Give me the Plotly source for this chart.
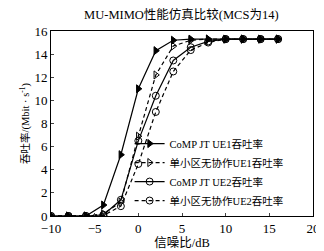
import plotly.graph_objects as go

snr = [-10, -8, -6, -4, -2, 0, 2, 4, 6, 8, 10, 12, 14, 16]
comp_ue1 = [0, 0, 0, 0.95, 5.3, 11.0, 14.3, 15.2, 15.3, 15.3, 15.3, 15.3, 15.3, 15.3]
single_ue1 = [0, 0, 0, 0.2, 1.2, 6.9, 12.2, 14.7, 15.2, 15.3, 15.3, 15.3, 15.3, 15.3]
comp_ue2 = [0, 0, 0, 0.1, 1.4, 6.5, 10.4, 13.45, 14.6, 15.1, 15.3, 15.3, 15.3, 15.3]
single_ue2 = [0, 0, 0, 0.05, 0.85, 4.5, 9.0, 12.5, 14.35, 15.0, 15.3, 15.3, 15.3, 15.3]

names = ["CoMP JT UE1吞吐率", "单小区无协作UE1吞吐率", "CoMP JT UE2吞吐率", "单小区无协作UE2吞吐率"]
xticks = [-10, -5, 0, 5, 10, 15, 20]
yticks = [0, 2, 4, 6, 8, 10, 12, 14, 16]

FONT = "Liberation Serif, Noto Sans CJK SC, serif"

fig = go.Figure()
series = [
    (comp_ue1, names[0], "solid", "triangle-right"),
    (single_ue1, names[1], "dash", "triangle-right-open"),
    (comp_ue2, names[2], "solid", "circle-open"),
    (single_ue2, names[3], "dash", "circle-open"),
]
for ys, nm, dash, sym in series:
    fig.add_trace(go.Scatter(
        x=snr, y=ys, name=nm, mode="lines+markers",
        line=dict(color="black", width=1.2, dash=dash if dash == "solid" else "4px,3px"),
        marker=dict(symbol=sym, size=7, color="black", line=dict(color="black", width=1)),
    ))

fig.update_layout(
    width=324, height=251,
    margin=dict(l=43, r=19, t=23, b=38),
    paper_bgcolor="white", plot_bgcolor="white",
    font=dict(family=FONT, size=11, color="black"),
    title=dict(text="MU-MIMO性能仿真比较(MCS为14)", x=0.535, xanchor="center",
               y=0.99, yanchor="top", font=dict(size=12.5, family=FONT)),
    showlegend=True,
    legend=dict(x=0.30, y=0.47, xanchor="left", yanchor="top",
                bgcolor="rgba(255,255,255,0)", borderwidth=0,
                font=dict(size=10.5, family=FONT), tracegroupgap=0,
                itemwidth=30),
    xaxis=dict(range=[-10, 20], tickvals=xticks, ticks="inside", ticklen=3,
               showline=True, linecolor="black", linewidth=1, mirror=True,
               showgrid=False, zeroline=False,
               tickfont=dict(size=13, family=FONT),
               title=dict(text="信噪比/dB", font=dict(size=12.5, family=FONT), standoff=3)),
    yaxis=dict(range=[0, 16], tickvals=yticks, ticks="inside", ticklen=3,
               showline=True, linecolor="black", linewidth=1, mirror=True,
               showgrid=False, zeroline=False,
               tickfont=dict(size=13, family=FONT),
               title=dict(text="吞吐率/(Mbit · s<sup>-1</sup>)", font=dict(size=10.5, family=FONT), standoff=2)),
)

fig.write_html("out.html")
